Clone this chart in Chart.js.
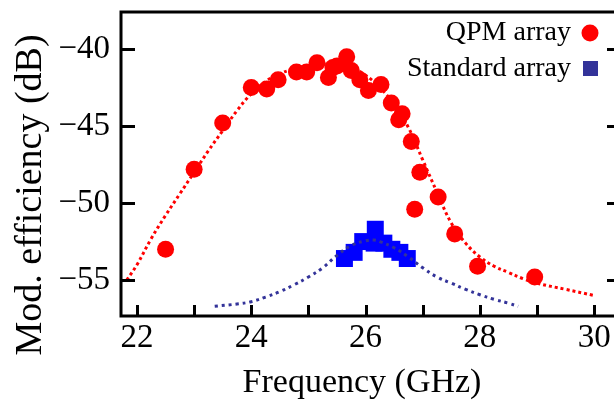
<!DOCTYPE html>
<html>
<head>
<meta charset="utf-8">
<script src="https://cdn.jsdelivr.net/npm/chart.js@4/dist/chart.umd.min.js"></script>
<style>
  html, body { margin: 0; padding: 0; background: #fff; overflow: hidden; }
  #c { display: block; width: 629px; height: 405px; }
</style>
</head>
<body>
<canvas id="c" width="629" height="405"></canvas>
<script>
// Measured modulation efficiency, QPM array (GHz, dB)
const qpmFreq = [22.5, 23.0, 23.5, 24.0, 24.27, 24.47, 24.79, 24.97, 25.15, 25.35, 25.43, 25.5,
                 25.67, 25.75, 25.9, 26.05, 26.27, 26.45, 26.58, 26.64, 26.8, 26.86, 26.95,
                 27.27, 27.56, 27.96, 28.96];
const qpmEff  = [-53.0, -47.8, -44.8, -42.5, -42.6, -42.0, -41.5, -41.5, -40.9, -41.85, -41.2, -41.1,
                 -40.5, -41.4, -42.0, -42.7, -42.3, -43.5, -44.6, -44.2, -46.0, -50.4, -48.0,
                 -49.6, -52.0, -54.1, -54.8];

// Measured modulation efficiency, standard array
const stdFreq = [25.63, 25.8, 25.95, 26.15, 26.17, 26.32, 26.46, 26.6, 26.73];
const stdEff  = [-53.6, -53.2, -52.5, -52.6, -51.7, -52.6, -53.0, -53.2, -53.6];

// Fitted response curves (dotted)
const qpmFitFreq = [21.82, 22.0, 22.25, 22.5, 22.75, 23.0, 23.25, 23.5, 23.75, 24.0, 24.25, 24.5,
                    24.75, 25.0, 25.25, 25.5, 25.75, 26.0, 26.25, 26.5, 26.75, 27.0, 27.25, 27.5,
                    27.75, 28.0, 28.25, 28.5, 28.75, 29.0, 29.5, 30.0];
const qpmFitEff  = [-55.0, -54.0, -52.3, -50.8, -49.4, -48.0, -46.6, -45.3, -44.0, -42.9, -42.1, -41.6,
                    -41.3, -41.1, -41.0, -41.0, -41.2, -41.7, -42.5, -43.6, -45.1, -47.2, -49.3, -51.3,
                    -52.6, -53.5, -54.1, -54.5, -54.9, -55.2, -55.6, -56.0];

const stdFitFreq = [23.36, 23.75, 24.0, 24.25, 24.5, 24.75, 25.0, 25.25, 25.5, 25.75, 26.0, 26.15,
                    26.25, 26.5, 26.75, 27.0, 27.25, 27.5, 27.75, 28.0, 28.25, 28.5, 28.67];
const stdFitEff  = [-56.7, -56.55, -56.4, -56.1, -55.75, -55.3, -54.8, -54.2, -53.4, -52.75, -52.45, -52.4,
                    -52.5, -52.9, -53.5, -54.2, -54.8, -55.2, -55.6, -55.95, -56.25, -56.5, -56.7];

// Axis ticks
const xTicks = [22, 23, 24, 25, 26, 27, 28, 29, 30];
const yTicks = [-55, -50, -45, -40];

const seriesNames = ['QPM array', 'Standard array'];
const xTitle = 'Frequency (GHz)';
const yTitle = 'Mod. efficiency (dB)';

const SERIF = '"Liberation Serif", "Times New Roman", serif';
const RED = '#ff0000';
const BLUE = '#0000ff';
const NAVY = '#333399';

const pairs = (xs, ys) => xs.map((x, i) => ({ x: x, y: ys[i] }));

// Frame, inward ticks, axis titles and legend
const decor = {
  id: 'decor',
  afterDatasetsDraw(chart) {
    const { ctx, chartArea: a, scales } = chart;
    const xs = scales.x, ys = scales.y;
    ctx.save();
    ctx.strokeStyle = '#000';
    ctx.lineWidth = 3;
    ctx.lineCap = 'butt';
    ctx.strokeRect(a.left, a.top, a.right - a.left, a.bottom - a.top);

    ctx.beginPath();
    xTicks.forEach(v => {
      const px = Math.round(xs.getPixelForValue(v)) + 0.5;
      ctx.moveTo(px, a.bottom);
      ctx.lineTo(px, a.bottom - 11);
    });
    yTicks.forEach(v => {
      const py = Math.round(ys.getPixelForValue(v)) + 0.5;
      ctx.moveTo(a.left, py);
      ctx.lineTo(a.left + 14, py);
      ctx.moveTo(a.right, py);
      ctx.lineTo(a.right - 10, py);
    });
    ctx.stroke();

    // axis titles
    ctx.fillStyle = '#000';
    ctx.font = '34px ' + SERIF;
    ctx.textAlign = 'center';
    ctx.textBaseline = 'alphabetic';
    ctx.fillText(xTitle, 362, 392);

    ctx.save();
    ctx.translate(31, 195);
    ctx.rotate(-Math.PI / 2);
    ctx.font = '38px ' + SERIF;
    ctx.textBaseline = 'middle';
    ctx.fillText(yTitle, 0, 0);
    ctx.restore();

    // legend: text right-aligned, marker to the right
    ctx.font = '28px ' + SERIF;
    ctx.textAlign = 'right';
    ctx.textBaseline = 'alphabetic';
    ctx.fillText(seriesNames[0], 571, 40);
    ctx.fillText(seriesNames[1], 571, 76);
    ctx.fillStyle = RED;
    ctx.beginPath();
    ctx.arc(590, 33, 8.5, 0, Math.PI * 2);
    ctx.fill();
    ctx.fillStyle = NAVY;
    ctx.fillRect(583, 61, 15, 15);
    ctx.restore();
  }
};

new Chart(document.getElementById('c'), {
  type: 'scatter',
  data: {
    datasets: [
      {
        label: seriesNames[1] + ' fit',
        data: pairs(stdFitFreq, stdFitEff),
        showLine: true,
        borderColor: NAVY,
        borderWidth: 3,
        borderDash: [3, 4],
        pointRadius: 0,
        tension: 0.4,
        order: 0
      },
      {
        label: seriesNames[1],
        data: pairs(stdFreq, stdEff),
        pointStyle: 'rect',
        pointRadius: 12,
        backgroundColor: BLUE,
        borderColor: BLUE,
        borderWidth: 0,
        order: 1
      },
      {
        label: seriesNames[0],
        data: pairs(qpmFreq, qpmEff),
        pointStyle: 'circle',
        pointRadius: 8.5,
        backgroundColor: RED,
        borderColor: RED,
        borderWidth: 0,
        order: 2
      },
      {
        label: seriesNames[0] + ' fit',
        data: pairs(qpmFitFreq, qpmFitEff),
        showLine: true,
        borderColor: RED,
        borderWidth: 3,
        borderDash: [3, 3],
        pointRadius: 0,
        tension: 0.4,
        order: 3
      }
    ]
  },
  options: {
    responsive: false,
    devicePixelRatio: 1,
    animation: false,
    layout: { padding: { top: 11, right: 3, left: 0, bottom: 0 } },
    plugins: { legend: { display: false }, tooltip: { enabled: false } },
    scales: {
      x: {
        type: 'linear',
        min: 21.72,
        max: 30.4,
        grid: { display: false, drawTicks: false },
        border: { display: false },
        afterBuildTicks: s => { s.ticks = xTicks.map(v => ({ value: v })); },
        afterFit: s => { s.height = 89; s.paddingLeft = 0; s.paddingRight = 0; },
        ticks: {
          padding: 6,
          color: '#000',
          maxRotation: 0,
          autoSkip: false,
          font: { family: SERIF, size: 33, lineHeight: 1 },
          callback: v => (v % 2 === 0 ? String(v) : '')
        }
      },
      y: {
        type: 'linear',
        min: -57.33,
        max: -37.6,
        grid: { display: false, drawTicks: false },
        border: { display: false },
        afterBuildTicks: s => { s.ticks = yTicks.map(v => ({ value: v })); },
        afterFit: s => { s.width = 121; s.paddingTop = 0; s.paddingBottom = 0; },
        ticks: {
          padding: 11,
          color: '#000',
          autoSkip: false,
          font: { family: SERIF, size: 33, lineHeight: 1 },
          callback: v => '\u2212' + Math.abs(v)
        }
      }
    }
  },
  plugins: [decor]
});
</script>
</body>
</html>
